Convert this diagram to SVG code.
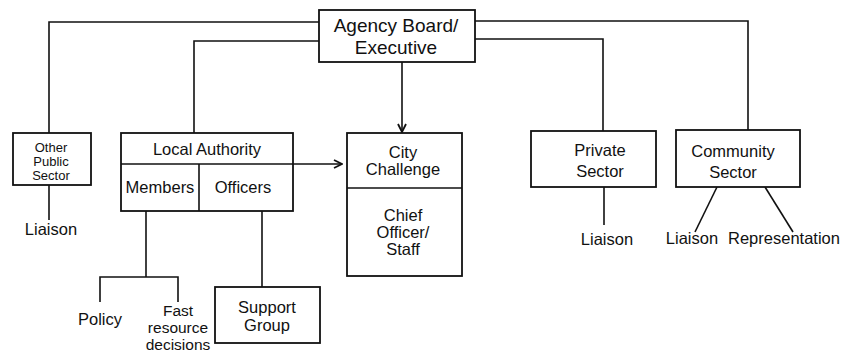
<svg xmlns="http://www.w3.org/2000/svg" width="842" height="352" viewBox="0 0 842 352">
  <defs>
    <marker id="arrow" viewBox="0 0 10 10" refX="9" refY="5" markerWidth="10" markerHeight="10" markerUnits="userSpaceOnUse" orient="auto">
      <path d="M1,1 L9,5 L1,9" fill="none" stroke="#111" stroke-width="1.8"/>
    </marker>
  </defs>
  <style>
    .box { fill: #fff; stroke: #111; stroke-width: 1.8; }
    .line { fill: none; stroke: #111; stroke-width: 1.6; }
    text { font-family: "Liberation Sans", Arial, sans-serif; fill: #111; text-anchor: middle; font-size: 16.5px; }
    .big { font-size: 19px; }
    .small { font-size: 13px; }
    .mid { font-size: 15.5px; }
  </style>
  <rect width="842" height="352" fill="#fff"/>

  <!-- connectors -->
  <g id="connectors">
    <polyline class="line" points="319,22 49,22 49,133"/>
    <polyline class="line" points="319,41 194,41 194,133"/>
    <polyline class="line" points="475,21 748,21 748,130"/>
    <polyline class="line" points="475,39 603,39 603,131"/>
    <line class="line" x1="402" y1="62" x2="402" y2="132" marker-end="url(#arrow)"/>
    <line class="line" x1="293" y1="164" x2="342" y2="164" marker-end="url(#arrow)"/>
    <line class="line" x1="49" y1="185" x2="49" y2="220"/>
    <line class="line" x1="146" y1="211" x2="146" y2="277"/>
    <polyline class="line" points="100,302 100,277 178,277 178,302"/>
    <line class="line" x1="262" y1="211" x2="262" y2="287"/>
    <line class="line" x1="604" y1="187" x2="604" y2="225"/>
    <line class="line" x1="717" y1="187" x2="695" y2="232"/>
    <line class="line" x1="765" y1="187" x2="793" y2="232"/>
  </g>

  <g id="agency-board">
    <rect class="box" x="319" y="10" width="156" height="52"/>
    <text class="big" x="396" y="32">Agency Board/</text>
    <text class="big" x="396" y="54">Executive</text>
  </g>

  <g id="other-public-sector">
    <rect class="box" x="13" y="133" width="78" height="52"/>
    <text class="small" x="51" y="152">Other</text>
    <text class="small" x="51" y="166">Public</text>
    <text class="small" x="51" y="180">Sector</text>
  </g>
  <g id="liaison-public">
    <text x="51" y="235">Liaison</text>
  </g>

  <g id="local-authority">
    <rect class="box" x="121" y="133" width="172" height="78"/>
    <line class="line" x1="121" y1="164" x2="293" y2="164"/>
    <line class="line" x1="199" y1="164" x2="199" y2="211"/>
    <text x="207" y="155">Local Authority</text>
    <text x="160" y="193">Members</text>
    <text x="243" y="193">Officers</text>
  </g>

  <g id="policy">
    <text x="100" y="325">Policy</text>
  </g>
  <g id="fast-resource">
    <text class="mid" x="178" y="316">Fast</text>
    <text class="mid" x="178" y="333">resource</text>
    <text class="mid" x="178" y="350">decisions</text>
  </g>

  <g id="support-group">
    <rect class="box" x="215" y="287" width="105" height="56"/>
    <text x="267" y="313">Support</text>
    <text x="267" y="331">Group</text>
  </g>

  <g id="city-challenge">
    <rect class="box" x="347" y="133" width="115" height="143"/>
    <line class="line" x1="347" y1="188" x2="462" y2="188"/>
    <text x="403" y="158">City</text>
    <text x="403" y="175">Challenge</text>
    <text x="403" y="221">Chief</text>
    <text x="403" y="238">Officer/</text>
    <text x="403" y="255">Staff</text>
  </g>

  <g id="private-sector">
    <rect class="box" x="531" y="131" width="125" height="56"/>
    <text x="600" y="156">Private</text>
    <text x="600" y="177">Sector</text>
  </g>
  <g id="liaison-private">
    <text x="607" y="245">Liaison</text>
  </g>

  <g id="community-sector">
    <rect class="box" x="676" y="130" width="124" height="57"/>
    <text x="733" y="157">Community</text>
    <text x="733" y="178">Sector</text>
  </g>
  <g id="liaison-community">
    <text x="692" y="244">Liaison</text>
  </g>
  <g id="representation">
    <text x="784" y="244">Representation</text>
  </g>
</svg>
